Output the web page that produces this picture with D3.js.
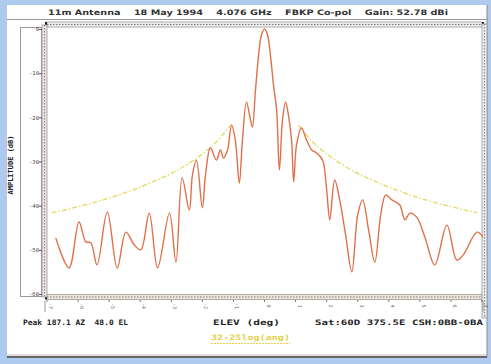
<!DOCTYPE html>
<html>
<head>
<meta charset="utf-8">
<script src="https://cdn.jsdelivr.net/npm/d3@7"></script>
<style>
  html, body { margin: 0; padding: 0; background: #aecbef; }
  svg { display: block; }
  text { white-space: pre; }
</style>
</head>
<body>
<div id="chart"></div>
<script>
// --- data ---
const patternDeg = [-6.72, -6.29, -5.97, -5.75, -5.59, -5.39, -5.06, -4.74, -4.46, -4.19, -3.98, -3.71, -3.44,
  -3.06, -2.85, -2.65, -2.42, -2.32, -2.19, -2.00, -1.90, -1.74, -1.55, -1.42, -1.32, -1.19, -1.06, -0.94,
  -0.81, -0.71, -0.58, -0.48, -0.39, -0.29, -0.19, -0.10, 0, 0.10, 0.19, 0.29, 0.39, 0.48, 0.58, 0.68, 0.77,
  0.87, 0.94, 1.03, 1.19, 1.35, 1.52, 1.68, 1.87, 2.00, 2.10, 2.26, 2.42, 2.61, 2.81, 3.00, 3.16, 3.35, 3.55,
  3.74, 3.90, 4.10, 4.35, 4.52, 4.68, 4.90, 5.16, 5.48, 5.87, 6.19, 6.39, 6.84, 7.03];
const patternDb = [-47.3, -54.1, -43.7, -48.2, -48.4, -53.4, -41.4, -54.1, -46.0, -48.9, -50.0, -41.7, -54.1,
  -41.7, -52.8, -33.7, -41.0, -33.1, -29.7, -40.5, -33.1, -26.9, -29.7, -27.4, -29.2, -27.4, -21.7, -25.1,
  -34.9, -25.1, -16.5, -19.5, -22.2, -13.8, -5.9, -1.4, 0, -1.4, -5.9, -12.7, -18.3, -31.9, -20.6, -16.5, -19.5,
  -25.1, -34.6, -26.3, -22.4, -25.1, -27.4, -28.1, -29.7, -36.4, -43.2, -34.2, -38.7, -46.6, -55.0, -42.1, -38.7, -45.5, -52.8,
  -42.1, -37.6, -38.7, -39.8, -43.2, -41.7, -42.6, -47.1, -53.4, -44.4, -52.3, -51.2, -46.0, -47.1];

// 32-25log(ang) envelope, one side (mirrored for the other)
const envDeg = [1.1, 1.5, 2.0, 2.5, 3.0, 3.5, 4.0, 4.5, 5.0, 5.5, 6.0, 6.5, 6.85];
const envDb  = [-21.8, -25.2, -28.3, -30.7, -32.7, -34.3, -35.8, -37.1, -38.3, -39.3, -40.2, -41.1, -41.6];

const xTicks = [-7, -6, -5, -4, -3, -2, -1, 0, 1, 2, 3, 4, 5, 6, 7];
const yTicks = [0, -10, -20, -30, -40, -50, -60];

const titleText = "11m Antenna    18 May 1994    4.076 GHz    FBKP Co-pol    Gain: 52.78 dBi";
const peakText = "Peak 187.1 AZ  48.0 EL";
const xLabel = "ELEV (deg)";
const satText = "Sat:60D 375.5E CSH:0BB-0BA";
const envLabel = "32-25log(ang)";
const yLabel = "AMPLITUDE (dB)";

// --- layout ---
const W = 491, H = 364;
const plot = { left: 47, right: 482, top: 29, bottom: 294 };

const svg = d3.select("#chart").append("svg").attr("width", W).attr("height", H);

// white panel
svg.append("rect").attr("x", 7).attr("y", 5).attr("width", 480).attr("height", 352).attr("fill", "#fff");
svg.append("line").attr("x1", 7).attr("x2", 487).attr("y1", 357).attr("y2", 357)
  .attr("stroke", "#666").attr("stroke-width", 2);
svg.append("line").attr("x1", 7).attr("x2", 487).attr("y1", 355).attr("y2", 355)
  .attr("stroke", "#bbb").attr("stroke-width", 1);
svg.append("line").attr("x1", 487).attr("x2", 487).attr("y1", 5).attr("y2", 357)
  .attr("stroke", "#888").attr("stroke-width", 1);

// title
svg.append("text").attr("x", 48).attr("y", 15)
  .attr("textLength", 400).attr("lengthAdjust", "spacingAndGlyphs")
  .attr("font-family", "'DejaVu Sans Condensed', 'DejaVu Sans', sans-serif").attr("font-weight", "bold").attr("font-size", 7.5)
  .attr("fill", "#333").text(titleText);
svg.append("line").attr("x1", 7).attr("x2", 487).attr("y1", 19.5).attr("y2", 19.5)
  .attr("stroke", "#999").attr("stroke-width", 1);

const x = d3.scaleLinear().domain([-7, 7]).range([plot.left, plot.right]);
const y = d3.scaleLinear().domain([-60, 0]).range([plot.bottom, plot.top]);

// rulers (dotted scroll-bar style bands)
function hRuler(yy, color) {
  const g = svg.append("g");
  g.append("rect").attr("x", plot.left).attr("y", yy - 2.5).attr("width", plot.right - plot.left).attr("height", 5)
    .attr("fill", color).attr("stroke", "#999").attr("stroke-width", 0.8);
  g.append("line").attr("x1", plot.left).attr("x2", plot.right).attr("y1", yy).attr("y2", yy)
    .attr("stroke", "#777").attr("stroke-width", 1.2).attr("stroke-dasharray", "1.5,1.5");
  g.append("rect").attr("x", plot.left - 2).attr("y", yy - 2.5).attr("width", 2).attr("height", 5).attr("fill", "#222");
  g.append("rect").attr("x", plot.right).attr("y", yy - 2.5).attr("width", 2).attr("height", 5).attr("fill", "#222");
  return g;
}
function vRuler(xx, y0, y1, color) {
  const g = svg.append("g");
  g.append("rect").attr("x", xx - 2.5).attr("y", y0).attr("width", 5).attr("height", y1 - y0)
    .attr("fill", color).attr("stroke", "#999").attr("stroke-width", 0.8);
  g.append("line").attr("x1", xx).attr("x2", xx).attr("y1", y0).attr("y2", y1)
    .attr("stroke", "#888").attr("stroke-width", 1.2).attr("stroke-dasharray", "1.5,1.5");
  return g;
}
hRuler(24.5, "#eee");
hRuler(297, "#efe6da");
vRuler(44.5, 25, 297, "#f0e4e4");
vRuler(484.5, 24, 318, "#eee");

// y axis box
svg.append("rect").attr("x", 20.5).attr("y", 27.5).attr("width", 21).attr("height", 269)
  .attr("fill", "none").attr("stroke", "#999").attr("stroke-width", 1);
const yAxis = d3.axisLeft(y).tickValues(yTicks).tickSize(3).tickFormat(d => d);
const yg = svg.append("g").attr("transform", `translate(${plot.left - 5},0)`).call(yAxis);
yg.select(".domain").remove();
yg.selectAll("line").attr("stroke", "#555");
yg.selectAll("text").attr("font-family", "'DejaVu Sans Mono', monospace").attr("font-size", 5.5)
  .attr("fill", "#444").attr("x", -3);

svg.append("text").attr("transform", "translate(13,165) rotate(-90)").attr("text-anchor", "middle")
  .attr("font-family", "'DejaVu Sans Mono', monospace").attr("font-weight", "bold").attr("font-size", 7)
  .attr("fill", "#222").text(yLabel);

// x tick labels (bracketed strip under the bottom ruler)
svg.append("path").attr("d", `M${plot.left - 2},312 V301 M${plot.right + 1},312 V301 M${plot.right + 1},301 H${plot.right - 1}`)
  .attr("fill", "none").attr("stroke", "#999");
const xg = svg.append("g");
xg.selectAll("line").data(xTicks).join("line")
  .attr("x1", d => x(d)).attr("x2", d => x(d)).attr("y1", 300).attr("y2", 302)
  .attr("stroke", "#777");
xg.selectAll("text").data(xTicks).join("text")
  .attr("transform", d => `translate(${x(d) + 2},${306}) rotate(90)`)
  .attr("text-anchor", "middle")
  .attr("font-family", "'DejaVu Sans Mono', monospace").attr("font-size", 5).attr("fill", "#666")
  .text(d => d);

// envelope
const envLine = d3.line().x(d => x(d[0])).y(d => y(d[1])).curve(d3.curveMonotoneX);
const envLeft = envDeg.map((d, i) => [-d, envDb[i]]).reverse();
const envRight = envDeg.map((d, i) => [d, envDb[i]]);
[envLeft, envRight].forEach(pts => {
  svg.append("path").datum(pts).attr("d", envLine)
    .attr("fill", "none").attr("stroke", "#e6d85a").attr("stroke-width", 1.3)
    .attr("stroke-dasharray", "5,2,1.5,2");
});

// measured pattern
const pts = patternDeg.map((d, i) => [d, patternDb[i]]);
svg.append("path").datum(pts)
  .attr("d", d3.line().x(d => x(d[0])).y(d => y(d[1])).curve(d3.curveCatmullRom.alpha(0.5)))
  .attr("fill", "none").attr("stroke", "#e0704a").attr("stroke-width", 1.4).attr("stroke-linejoin", "round");

// bottom texts
const mono = "'DejaVu Sans Mono', monospace";
svg.append("text").attr("x", 23).attr("y", 325).attr("textLength", 105).attr("lengthAdjust", "spacingAndGlyphs")
  .attr("font-family", mono).attr("font-weight", "bold").attr("font-size", 7.5).attr("fill", "#222").text(peakText);
svg.append("text").attr("x", 213).attr("y", 325).attr("textLength", 67).attr("lengthAdjust", "spacingAndGlyphs")
  .attr("font-family", mono).attr("font-weight", "bold").attr("font-size", 7.5).attr("fill", "#222").text(xLabel);
svg.append("text").attr("x", 315).attr("y", 325).attr("textLength", 168).attr("lengthAdjust", "spacingAndGlyphs")
  .attr("font-family", mono).attr("font-weight", "bold").attr("font-size", 7.5).attr("fill", "#222").text(satText);
svg.append("text").attr("x", 211).attr("y", 340).attr("textLength", 79).attr("lengthAdjust", "spacingAndGlyphs")
  .attr("font-family", mono).attr("font-weight", "bold").attr("font-size", 7.5).attr("fill", "#e3d24a").text(envLabel);
svg.append("line").attr("x1", 211).attr("x2", 290).attr("y1", 343.5).attr("y2", 343.5)
  .attr("stroke", "#e3d24a").attr("stroke-width", 1).attr("stroke-dasharray", "2,1");
</script>
</body>
</html>
